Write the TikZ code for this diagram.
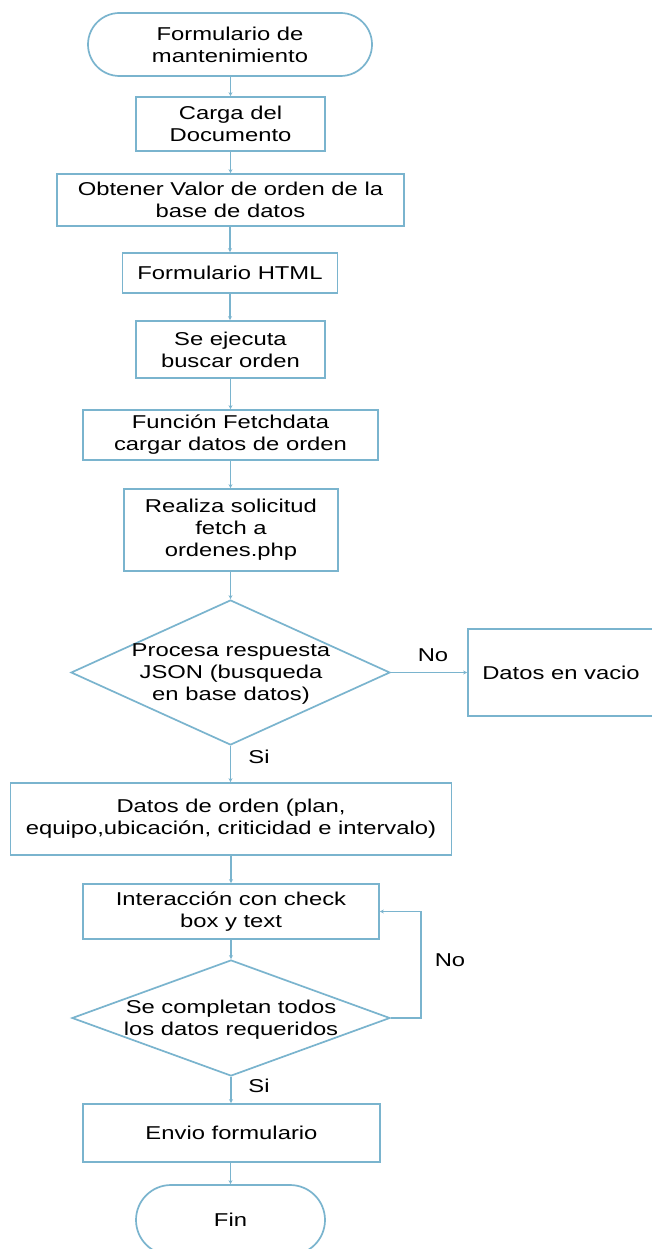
\documentclass[tikz,border=0pt]{standalone}
\usepackage{fontspec}
\setmainfont{Liberation Sans}[FakeStretch=1.28]
\usetikzlibrary{shapes.geometric,arrows.meta}
\definecolor{flowblue}{RGB}{122,180,206}
\begin{document}
\begin{tikzpicture}[x=1pt,y=-1pt,
  every node/.style={font=\fontsize{18.6}{22}\selectfont, text=black, align=center, inner sep=0pt},
  procbox/.style={draw=flowblue, line width=1.7pt, rectangle},
  termbox/.style={draw=flowblue, line width=1.7pt, rectangle},
  decbox/.style={draw=flowblue, line width=1.7pt, diamond},
  flow/.style={draw=flowblue, line width=1.7pt, -{Stealth[length=4pt,width=4pt]}},
  lbl/.style={}]
\useasboundingbox (0,0) rectangle (652,1249);
\fill[white] (0,0) rectangle (652,1249);
\clip (0,0) rectangle (652,1249);

\node[termbox, minimum width=284pt, minimum height=63pt, rounded corners=31.5pt] (start) at (230,44.5) {Formulario de\\mantenimiento};
\node[procbox, minimum width=189pt, minimum height=54pt] (carga) at (230.5,124) {Carga del\\Documento};
\node[procbox, minimum width=347pt, minimum height=52pt] (obtener) at (230.5,200) {Obtener Valor de orden de la\\base de datos};
\node[procbox, minimum width=215pt, minimum height=40pt] (html) at (230,273) {Formulario HTML};
\node[procbox, minimum width=189pt, minimum height=57pt] (ejecuta) at (230.5,349.5) {Se ejecuta\\buscar orden};
\node[procbox, minimum width=295pt, minimum height=50pt] (fetch) at (230.5,435) {Función Fetchdata\\cargar datos de orden};
\node[procbox, minimum width=214pt, minimum height=82pt] (realiza) at (231,530) {Realiza solicitud\\fetch a\\ordenes.php};
\node[decbox, minimum width=319pt, minimum height=145pt] (d1) at (230.5,672.5) {};
\node (d1t) at (231,674.5) {Procesa respuesta\\JSON (busqueda\\en base datos)};
\node[procbox, minimum width=192pt, minimum height=87pt] (vacio) at (564,672.5) {};
\node (vaciot) at (561,672.5) {Datos en vacio};
\node[procbox, minimum width=441pt, minimum height=72pt] (orden) at (231,819) {Datos de orden (plan,\\equipo,ubicación, criticidad e intervalo)};
\node[procbox, minimum width=296pt, minimum height=55pt] (inter) at (231,911.5) {Interacción con check\\box y text};
\node[decbox, minimum width=318pt, minimum height=116pt] (d2) at (231,1018) {};
\node (d2t) at (231,1020) {Se completan todos\\los datos requeridos};
\node[procbox, minimum width=297pt, minimum height=58pt] (envio) at (231.5,1133) {Envio formulario};
\node[termbox, minimum width=189pt, minimum height=70pt, rounded corners=35pt] (fin) at (230.5,1220) {Fin};

\node[lbl] (no1) at (433,655) {No};
\node[lbl] (si1) at (259,757) {Si};
\node[lbl] (no2) at (450,960) {No};
\node[lbl] (si2) at (259,1086) {Si};

\coordinate (loopc) at (421,1018);

\draw[flow] (start.south -| carga) -- (carga.north);
\draw[flow] (carga.south) -- (carga.south |- obtener.north);
\draw[flow] (obtener.south -| html) -- (html.north);
\draw[flow] (html.south) -- (html.south |- ejecuta.north);
\draw[flow] (ejecuta.south) -- (ejecuta.south |- fetch.north);
\draw[flow] (fetch.south) -- (fetch.south |- realiza.north);
\draw[flow] (realiza.south -| d1.north) -- (d1.north);
\draw[flow] (d1.east) -- (vacio.west);
\draw[flow] (d1.south) -- (d1.south |- orden.north);
\draw[flow] (orden.south -| inter) -- (inter.north);
\draw[flow] (inter.south) -- (d2.north);
\draw[flow] (d2.east) -- (loopc) |- (inter.east);
\draw[flow] (d2.south) -- (d2.south |- envio.north);
\draw[flow] (envio.south -| fin) -- (fin.north);
\end{tikzpicture}
\end{document}
